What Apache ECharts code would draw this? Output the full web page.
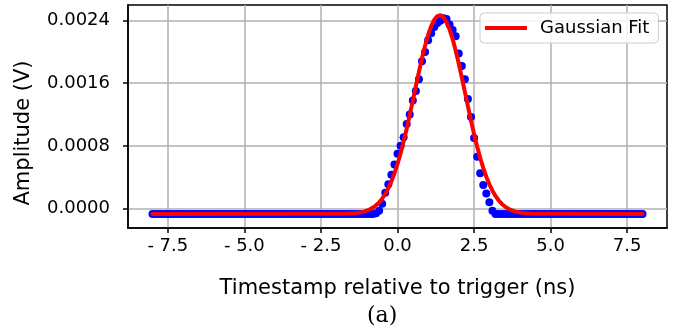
<!DOCTYPE html>
<html><head><meta charset="utf-8">
<script src="https://cdn.jsdelivr.net/npm/echarts@6/dist/echarts.min.js"></script>
<style>html,body{margin:0;padding:0;background:#fff}#c{width:690px;height:333px}</style>
</head><body><div id="c"></div>
<script>
// Sampling times (ns)
const times = [
-8.0,-7.9,-7.8,-7.7,-7.6,-7.5,-7.4,-7.3,-7.2,-7.1,-7.0,-6.9,-6.8,-6.7,-6.6,-6.5,-6.4,-6.3,-6.2,-6.1,
-6.0,-5.9,-5.8,-5.7,-5.6,-5.5,-5.4,-5.3,-5.2,-5.1,-5.0,-4.9,-4.8,-4.7,-4.6,-4.5,-4.4,-4.3,-4.2,-4.1,
-4.0,-3.9,-3.8,-3.7,-3.6,-3.5,-3.4,-3.3,-3.2,-3.1,-3.0,-2.9,-2.8,-2.7,-2.6,-2.5,-2.4,-2.3,-2.2,-2.1,
-2.0,-1.9,-1.8,-1.7,-1.6,-1.5,-1.4,-1.3,-1.2,-1.1,-1.0,-0.9,-0.8,-0.7,-0.6,-0.5,-0.4,-0.3,-0.2,-0.1,
0.0,0.1,0.2,0.3,0.4,0.5,0.6,0.7,0.8,0.9,1.0,1.1,1.2,1.3,1.4,1.5,1.6,1.7,1.8,1.9,
2.0,2.1,2.2,2.3,2.4,2.5,2.6,2.7,2.8,2.9,3.0,3.1,3.2,3.3,3.4,3.5,3.6,3.7,3.8,3.9,
4.0,4.1,4.2,4.3,4.4,4.5,4.6,4.7,4.8,4.9,5.0,5.1,5.2,5.3,5.4,5.5,5.6,5.7,5.8,5.9,
6.0,6.1,6.2,6.3,6.4,6.5,6.6,6.7,6.8,6.9,7.0,7.1,7.2,7.3,7.4,7.5,7.6,7.7,7.8,7.9,
8.0];
// Measured amplitude (V)
const amplitude = [
-0.00007,-0.00007,-0.00007,-0.00007,-0.00007,-0.00007,-0.00007,-0.00007,-0.00007,-0.00007,
-0.00007,-0.00007,-0.00007,-0.00007,-0.00007,-0.00007,-0.00007,-0.00007,-0.00007,-0.00007,
-0.00007,-0.00007,-0.00007,-0.00007,-0.00007,-0.00007,-0.00007,-0.00007,-0.00007,-0.00007,
-0.00007,-0.00007,-0.00007,-0.00007,-0.00007,-0.00007,-0.00007,-0.00007,-0.00007,-0.00007,
-0.00007,-0.00007,-0.00007,-0.00007,-0.00007,-0.00007,-0.00007,-0.00007,-0.00007,-0.00007,
-0.00007,-0.00007,-0.00007,-0.00007,-0.00007,-0.00007,-0.00007,-0.00007,-0.00007,-0.00007,
-0.00007,-0.00007,-0.00007,-0.00007,-0.00007,-0.00007,-0.00007,-0.00007,-0.00007,-0.00007,
-0.00007,-0.00007,
-0.00007,-0.00006,-0.00003,0.00006,0.00020,0.00031,0.00043,0.00056,
0.00070,0.00080,0.00091,0.00108,0.00120,0.00138,0.00150,0.00165,0.00188,0.00200,
0.00215,0.00224,0.00232,0.00237,0.00240,0.00243,0.00242,0.00235,0.00228,0.00220,
0.00198,0.00182,0.00165,0.00140,0.00117,0.00090,0.00066,0.00045,0.00030,0.00019,
0.00008,-0.00003,-0.00007,-0.00007,
-0.00007,-0.00007,-0.00007,-0.00007,-0.00007,-0.00007,-0.00007,-0.00007,-0.00007,-0.00007,
-0.00007,-0.00007,-0.00007,-0.00007,-0.00007,-0.00007,-0.00007,-0.00007,-0.00007,-0.00007,
-0.00007,-0.00007,-0.00007,-0.00007,-0.00007,-0.00007,-0.00007,-0.00007,-0.00007,-0.00007,
-0.00007,-0.00007,-0.00007,-0.00007,-0.00007,-0.00007,-0.00007,-0.00007,-0.00007,-0.00007,
-0.00007,-0.00007,-0.00007,-0.00007,-0.00007,-0.00007,-0.00007];
// Gaussian fit curve
const fitTimes = [-8.0,-2.0,-1.8,-1.6,-1.5,-1.4,-1.3,-1.2,-1.1,
-1.0,-0.9,-0.8,-0.7,-0.6,-0.5,-0.4,-0.3,-0.2,-0.1,
0.0,0.1,0.2,0.3,0.4,0.5,0.6,0.7,0.8,0.9,
1.0,1.1,1.2,1.3,1.4,1.5,1.6,1.7,1.8,1.9,
2.0,2.1,2.2,2.3,2.4,2.5,2.6,2.7,2.8,2.9,
3.0,3.1,3.2,3.3,3.4,3.5,3.6,3.7,3.8,3.9,
4.0,4.1,4.2,4.3,4.5,5.0,8.0];
const fitValues = [-0.00007,-0.0000694,-0.0000683,-0.000066,-0.000064,-0.0000607,-0.0000562,-0.00005,-0.0000407,
-0.000028,-0.0000116,0.000011,0.00004,0.000078,0.000125,0.000185,0.000258,0.000345,0.000448,
0.000568,0.000703,0.000855,0.001019,0.001195,0.001378,0.001563,0.001746,0.00192,0.002079,
0.002217,0.00233,0.002411,0.002458,0.002469,0.002444,0.002382,0.002288,0.002165,0.002017,
0.001852,0.001674,0.001489,0.001304,0.001124,0.000952,0.000792,0.000647,0.000518,0.000405,
0.000308,0.000227,0.00016,0.000105,0.000061,0.0000273,0.000001,-0.0000189,-0.000034,-0.0000447,
-0.000053,-0.0000582,-0.0000621,-0.0000648,-0.0000678,-0.000069,-0.00007];
const xTicks = [-7.5,-5.0,-2.5,0.0,2.5,5.0,7.5];
const yTicks = [0.0000,0.0008,0.0016,0.0024];

const F = 'DejaVu Sans';
const chart = echarts.init(document.getElementById('c'), null, {renderer:'canvas'});
chart.setOption({
  animation:false,
  backgroundColor:'#fff',
  grid:{left:128,top:5,width:539,height:223,show:true,borderColor:'#000',borderWidth:1.5,backgroundColor:'transparent'},
  legend:{
    data:['Gaussian Fit'], left:480, top:13, orient:'horizontal',
    icon:'rect', itemWidth:42, itemHeight:4, itemGap:10,
    padding:[6,9,6,5], borderColor:'#cccccc', borderWidth:1, borderRadius:4,
    backgroundColor:'rgba(255,255,255,0.85)',
    textStyle:{fontFamily:F,fontSize:18,color:'#000',padding:[0,0,0,8]}
  },
  xAxis:{
    type:'value', min:-8.8, max:8.8,
    name:'Timestamp relative to trigger (ns)', nameLocation:'middle', nameGap:50,
    nameTextStyle:{fontFamily:F,fontSize:21,color:'#000'},
    axisLine:{onZero:false,lineStyle:{color:'#000',width:1.5}},
    axisTick:{show:true,length:5,lineStyle:{color:'#000',width:1.5},customValues:xTicks},
    axisLabel:{customValues:xTicks,margin:9,fontFamily:F,fontSize:18,color:'#000',
      formatter:v=> v<0 ? '- '+Math.abs(v).toFixed(1) : v.toFixed(1)},
    splitLine:{show:true,lineStyle:{color:'#b0b0b0',width:1.5}}
  },
  yAxis:{
    type:'value', min:-0.00025, max:0.0026,
    axisLine:{show:true,onZero:false,lineStyle:{color:'#000',width:1.5}},
    axisTick:{show:true,length:5,lineStyle:{color:'#000',width:1.5},customValues:yTicks},
    axisLabel:{customValues:yTicks,margin:18,fontFamily:F,fontSize:18,color:'#000',
      formatter:v=>v.toFixed(4)},
    splitLine:{show:true,lineStyle:{color:'#b0b0b0',width:1.5}}
  },
  series:[
    {name:'Data',type:'scatter',symbol:'circle',symbolSize:8,
     itemStyle:{color:'#0000ff',opacity:1},z:2,
     data:times.map((t,i)=>[t,amplitude[i]])},
    {name:'Gaussian Fit',type:'line',symbol:'none',smooth:false,
     lineStyle:{color:'#ff0000',width:4,join:'round',cap:'round'},itemStyle:{color:'#ff0000'},z:3,
     data:fitTimes.map((t,i)=>[t,fitValues[i]])}
  ],
  graphic:[
    {type:'text',x:24,y:133,rotation:Math.PI/2,
     style:{text:'Amplitude (V)',font:'21px "DejaVu Sans"',fill:'#000',align:'center',verticalAlign:'middle'}},
    {type:'text',left:367,top:305,style:{text:'(a)',font:'22px "DejaVu Serif"',fill:'#000'}}
  ]
});
</script></body></html>
